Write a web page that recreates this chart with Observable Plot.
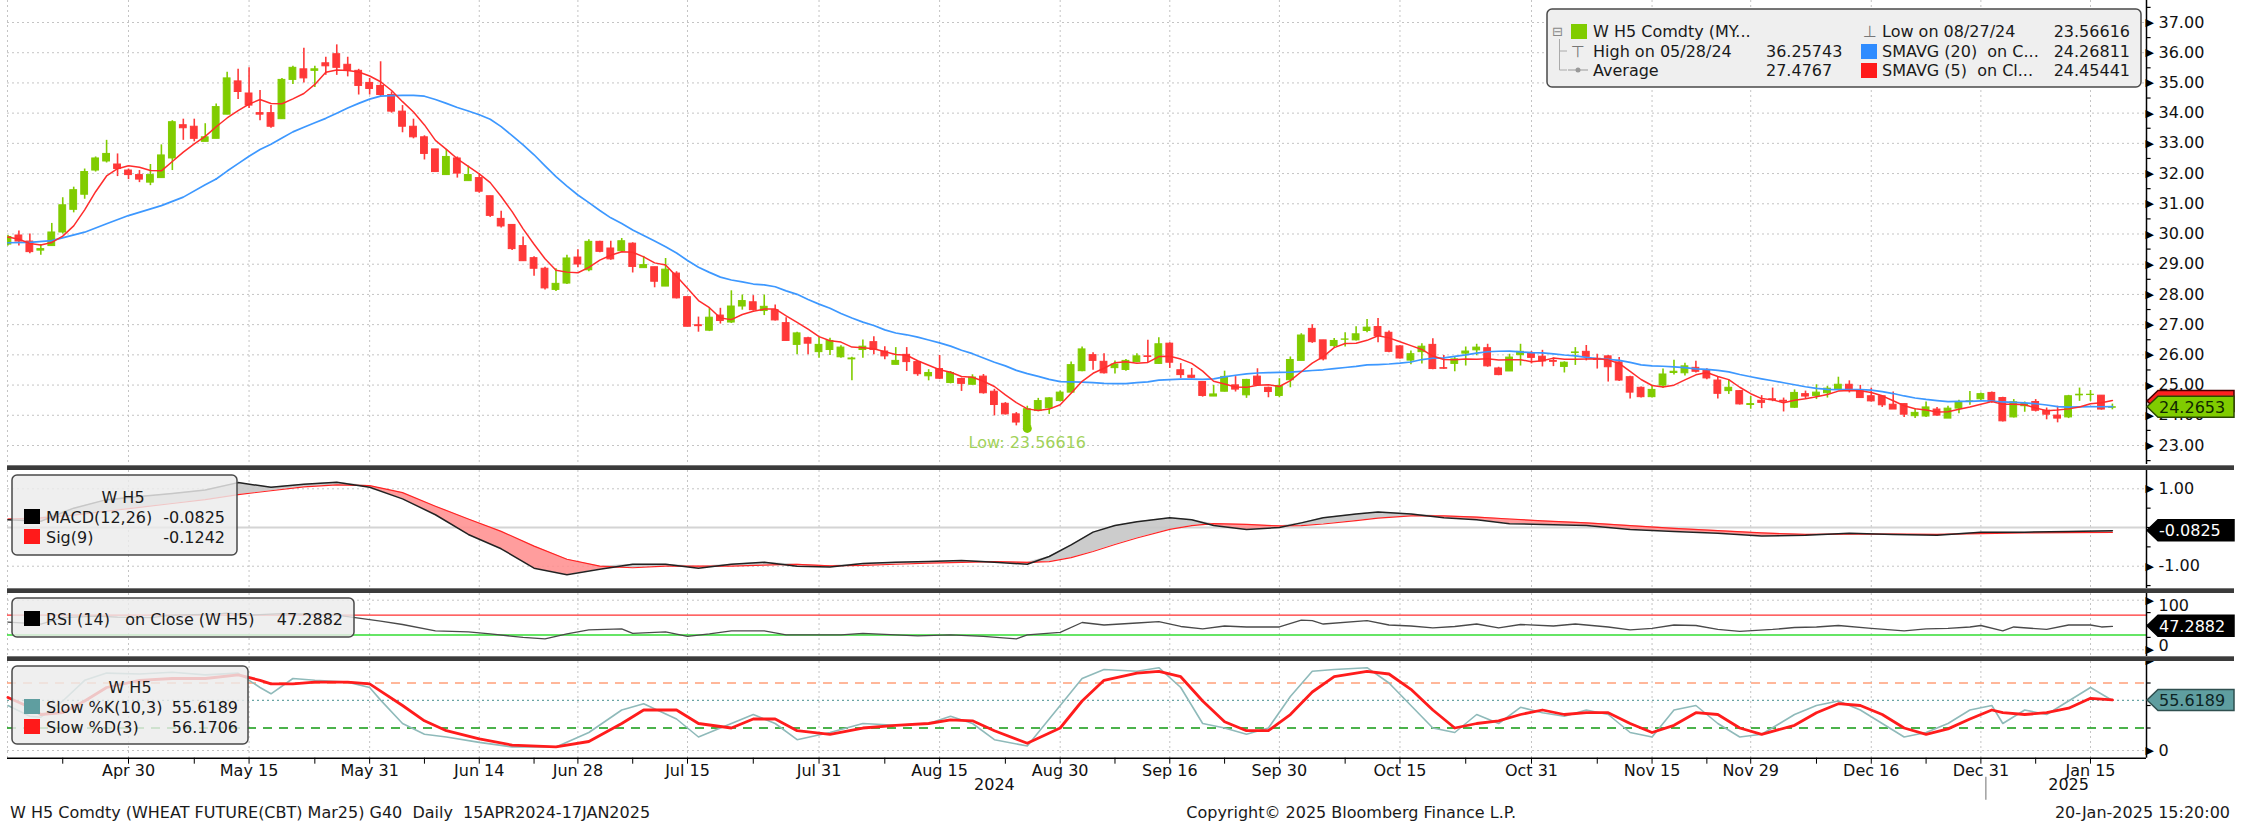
<!DOCTYPE html>
<html><head><meta charset="utf-8">
<script src="https://cdn.jsdelivr.net/npm/d3@7"></script>
<script src="https://cdn.jsdelivr.net/npm/@observablehq/plot@0.6"></script>
<style>
body{margin:0;background:#fff;}
#wrap{position:relative;width:2248px;height:826px;overflow:hidden;background:#fff;font-family:'DejaVu Sans',sans-serif;}
.panel{position:absolute;left:0;}
.bar{position:absolute;left:7px;width:2227px;height:5px;background:#3b3b3b;border-top:1px solid #777;box-sizing:border-box;}
#ov{position:absolute;left:0;top:0;pointer-events:none;}
</style></head>
<body><div id="wrap"></div>
<script>
// ---------- data ----------
const O=[29.65,29.95,29.75,29.45,29.60,30.05,30.80,31.30,32.10,32.40,32.30,32.10,31.95,31.70,31.85,32.50,33.60,33.55,33.05,33.15,33.95,35.05,34.65,34.00,34.00,33.80,35.10,35.45,35.40,35.65,35.95,35.60,35.40,35.00,34.90,34.60,34.05,33.55,33.20,32.80,31.95,32.50,31.75,31.85,31.25,30.50,30.30,29.60,29.20,28.85,28.15,28.36,29.22,28.80,29.74,29.52,29.43,29.68,28.87,28.90,28.26,28.69,27.91,26.98,26.80,27.30,27.07,27.60,27.74,27.45,27.48,27.05,26.33,26.55,26.09,26.16,25.92,25.85,26.16,26.42,26.11,25.67,26.00,25.76,25.29,25.53,25.07,25.20,25.01,25.28,24.78,24.38,24.03,23.60,24.14,24.23,24.47,24.75,25.46,25.99,25.77,25.56,25.50,25.76,25.95,25.70,26.37,25.49,25.31,25.10,24.62,24.78,24.99,24.66,25.28,24.91,24.64,25.16,25.80,26.86,26.48,26.29,26.50,26.48,26.79,26.92,26.73,26.28,25.81,26.09,26.33,25.56,25.70,26.04,26.15,26.22,25.55,25.45,25.99,26.04,25.94,25.80,25.60,26.06,26.10,25.87,25.95,25.75,25.26,24.91,24.60,24.98,25.40,25.39,25.57,25.48,25.15,24.80,24.80,24.34,24.48,24.53,24.48,24.25,24.70,24.64,24.73,24.85,25.01,24.81,24.63,24.63,24.35,24.37,23.97,23.96,24.19,23.89,24.22,24.45,24.53,24.74,24.57,23.93,24.30,24.44,24.15,23.99,23.93,24.66,24.67,24.65,24.25];
const H=[29.95,30.10,30.00,29.65,30.35,31.20,31.55,32.15,32.55,33.10,32.65,32.15,32.10,32.30,32.95,33.75,33.80,33.80,33.65,34.30,35.35,35.45,35.50,34.75,34.25,35.15,35.55,36.15,35.55,35.85,36.26,35.85,35.45,35.15,35.70,34.70,34.25,33.80,33.25,32.80,32.80,32.55,32.25,32.00,31.25,30.75,30.30,29.90,29.25,28.90,28.85,29.30,29.48,29.81,29.76,29.76,29.85,29.71,29.26,28.90,29.19,28.75,27.91,27.25,27.54,27.54,28.12,27.98,27.96,27.98,27.65,27.23,26.75,26.58,26.60,26.55,26.30,25.92,26.49,26.60,26.27,26.24,26.24,25.78,25.51,25.98,25.45,25.23,25.34,25.35,24.86,24.42,24.09,24.30,24.56,24.58,24.80,25.76,26.26,26.07,26.04,25.80,25.85,26.04,26.48,26.57,26.40,25.71,25.55,25.10,24.99,25.46,25.28,25.19,25.54,24.93,25.21,25.93,26.70,27.00,26.48,26.54,26.73,26.93,27.17,27.20,26.79,26.30,26.13,26.37,26.53,25.98,25.91,26.26,26.35,26.35,25.59,26.02,26.35,26.11,26.15,25.90,25.77,26.24,26.31,26.02,25.98,25.91,25.29,24.94,24.99,25.53,25.82,25.72,25.79,25.54,25.28,25.16,24.82,24.62,24.65,24.90,24.57,24.84,24.80,25.01,24.96,25.26,25.14,24.99,24.90,24.63,24.77,24.37,24.22,24.44,24.26,24.30,24.50,24.79,24.74,24.77,24.60,24.52,24.44,24.52,24.24,24.30,24.66,24.90,24.82,24.65,24.37];
const L=[29.60,29.60,29.35,29.30,29.60,30.00,30.70,31.15,32.05,32.35,31.90,31.80,31.70,31.60,31.85,32.10,33.10,33.05,33.05,33.15,33.95,34.45,34.15,33.75,33.50,33.80,34.95,35.00,34.85,35.25,35.25,35.20,34.60,34.60,34.55,34.00,33.35,33.15,32.45,32.05,31.95,31.85,31.75,31.35,30.55,30.20,29.45,29.10,28.60,28.15,28.10,28.33,28.88,28.75,29.38,29.13,29.38,28.71,28.87,28.22,28.26,27.85,26.93,26.75,26.77,27.02,27.04,27.48,27.45,27.30,27.12,26.44,26.00,26.00,25.89,25.98,25.89,25.14,25.89,26.00,25.84,25.67,25.45,25.29,25.14,25.18,25.04,24.79,24.99,24.70,23.98,24.01,23.65,23.566,24.12,24.03,24.45,24.75,25.44,25.49,25.37,25.37,25.46,25.74,25.74,25.68,25.55,25.22,25.21,24.60,24.62,24.77,24.77,24.56,24.97,24.58,24.58,24.91,25.80,26.38,25.80,26.24,26.26,26.46,26.73,26.40,26.07,25.86,25.67,25.70,25.51,25.52,25.44,25.63,25.97,25.59,25.31,25.45,25.63,25.70,25.60,25.61,25.40,25.65,25.80,25.53,25.10,25.12,24.54,24.57,24.57,24.89,25.33,25.30,25.40,25.18,24.54,24.69,24.34,24.20,24.22,24.45,24.11,24.23,24.53,24.52,24.57,24.85,24.74,24.57,24.44,24.26,24.19,23.93,23.89,23.93,23.97,23.89,24.05,24.33,24.49,24.40,23.78,23.91,24.10,24.11,23.85,23.75,23.89,24.46,24.46,24.17,24.18];
const C=[29.90,29.75,29.40,29.50,30.05,30.95,31.45,32.05,32.50,32.65,32.15,31.95,31.80,31.95,32.60,33.70,33.50,33.15,33.20,34.20,35.15,34.70,34.25,33.95,33.55,35.10,35.50,35.15,35.45,35.55,35.50,35.40,34.90,34.80,34.60,34.05,33.55,33.20,32.65,32.05,32.55,32.00,31.95,31.40,30.60,30.25,29.50,29.10,28.85,28.20,28.35,29.19,28.99,29.74,29.41,29.16,29.76,28.91,28.97,28.42,28.82,27.87,26.93,26.95,27.23,27.12,27.60,27.78,27.48,27.59,27.14,26.46,26.71,26.37,26.33,26.46,26.24,25.88,26.27,26.16,25.95,25.80,25.76,25.36,25.40,25.21,25.40,25.04,25.25,24.73,24.34,24.03,23.76,24.20,24.47,24.56,24.75,25.66,26.18,25.80,25.39,25.68,25.80,25.95,25.93,26.35,25.74,25.33,25.24,24.64,24.69,25.27,24.85,25.17,25.00,24.77,24.97,25.83,26.64,26.42,25.85,26.46,26.51,26.68,26.90,26.62,26.10,25.88,26.02,26.27,25.53,25.54,25.85,26.11,26.24,25.62,25.33,25.91,26.10,25.90,25.78,25.77,25.74,26.08,25.93,25.83,25.59,25.15,24.75,24.60,24.84,25.35,25.44,25.62,25.44,25.22,24.71,24.91,24.36,24.37,24.41,24.50,24.45,24.74,24.62,24.75,24.88,25.01,24.85,24.57,24.46,24.33,24.19,24.02,24.08,24.26,23.99,24.22,24.44,24.46,24.70,24.44,23.80,24.43,24.37,24.15,24.02,23.89,24.63,24.68,24.68,24.19,24.2653];

const smaHeadX=[0,2,4,7,9,11,14,16,18,19];
const smaHeadV=[29.71,29.72,29.78,30.06,30.34,30.61,30.94,31.22,31.63,31.82];

// MACD / signal (read at trading-day indices)
const macdX=[0,3,6,9,12,15,18,21,24,27,30,33,36,39,42,45,48,51,54,57,60,63,66,69,72,75,78,81,84,87,90,93,95,97,99,101,103,106,108,110,113,116,118,120,123,125,128,131,134,137,140,144,148,152,156,160,164,168,172,176,180,184,188,192];
const macdV=[0.20,0.16,0.50,0.72,0.80,0.88,0.97,1.16,1.04,1.12,1.17,1.04,0.74,0.33,-0.18,-0.55,-1.05,-1.22,-1.08,-0.95,-0.95,-1.05,-0.95,-0.90,-1.00,-1.02,-0.93,-0.90,-0.88,-0.85,-0.90,-0.95,-0.75,-0.45,-0.12,0.05,0.15,0.25,0.20,0.05,-0.05,0.00,0.12,0.25,0.35,0.40,0.35,0.25,0.20,0.10,0.08,0.05,-0.05,-0.10,-0.15,-0.22,-0.20,-0.15,-0.18,-0.20,-0.12,-0.12,-0.10,-0.0825];
const sigV=[0.22,0.25,0.32,0.42,0.52,0.62,0.72,0.85,0.95,1.05,1.10,1.08,0.90,0.55,0.22,-0.10,-0.48,-0.82,-1.00,-1.04,-1.00,-1.00,-1.00,-0.97,-0.95,-0.99,-0.98,-0.95,-0.92,-0.90,-0.88,-0.90,-0.88,-0.78,-0.62,-0.44,-0.27,-0.05,0.05,0.10,0.08,0.04,0.05,0.09,0.18,0.24,0.30,0.30,0.27,0.22,0.17,0.12,0.05,-0.02,-0.08,-0.14,-0.18,-0.17,-0.17,-0.18,-0.16,-0.14,-0.13,-0.1242];

// RSI(14)
const rsiX=[0,3,5,8,10,13,15,19,20,22,25,27,30,32,34,36,39,42,44,47,49,51,53,56,57,60,62,64,66,69,71,74,76,78,81,83,86,89,92,93,96,98,100,103,105,107,109,111,113,116,118,119,120,124,126,128,130,132,134,136,138,141,143,146,148,150,152,154,156,158,161,163,165,167,170,173,175,177,179,180,182,183,186,188,190,191,192];
const rsiV=[56,52,65,68,66,65,70,72,74,70,73,72,70,64,58,51,38,36,32,25,22,32,40,42,33,36,27,32,38,38,30,30,30,33,30,28,30,27,22,30,35,55,50,54,57,47,42,48,46,46,60,59,52,59,50,48,44,47,52,44,51,48,52,46,40,43,50,49,41,37,41,45,46,49,43,38,42,43,46,49,38,46,41,50,50,46,47.29];

// Slow stochastic %K(10,3) and %D(3)
const stX=[0,2,3,5,7,9,12,15,18,21,23,24,26,28,31,33,34,36,38,40,43,46,50,53,56,58,61,63,66,68,70,72,75,78,81,84,86,88,90,93,96,98,100,103,105,107,109,111,113,115,117,119,121,124,126,128,130,132,134,136,138,140,142,144,146,148,150,152,154,156,158,160,163,165,167,169,171,173,175,177,179,181,182,184,186,188,190,192];
const kV=[50,38,37,55,78,86,85,87,84,86,70,63,80,78,76,70,56,30,18,15,9,4,4,20,45,52,35,15,30,40,30,12,20,30,28,30,38,30,12,5,50,80,90,88,92,70,30,25,18,25,60,88,90,92,75,50,25,20,40,30,48,42,38,45,40,20,15,45,50,30,15,18,40,50,55,45,30,15,20,30,45,50,30,45,40,55,70,55.62];
const dV=[59,48,40,42,55,70,78,80,80,84,78,74,74,76,76,74,66,50,33,22,13,6,4,10,30,45,45,30,25,35,35,22,18,25,28,30,34,33,22,8,25,55,78,86,88,82,55,32,22,22,40,65,82,88,85,68,45,25,30,33,40,45,40,42,42,30,20,28,42,40,25,18,28,42,52,50,40,25,18,24,35,45,42,40,42,47,58,56.17];

// axis ticks
const tickIdx=[11,22,33,43,52,62,74,85,96,106,116,127,139,150,159,170,180,190];
const tickLbl=["Apr 30","May 15","May 31","Jun 14","Jun 28","Jul 15","Jul 31","Aug 15","Aug 30","Sep 16","Sep 30","Oct 15","Oct 31","Nov 15","Nov 29","Dec 16","Dec 31","Jan 15"];
const minorIdx=[5,17,28,38,48,57,68,80,91,101,111,122,133,145,155,165,175,185];
const priceTicks=[23,24,25,26,27,28,29,30,31,32,33,34,35,36,37];
const yearLbl=[{i:90,t:"2024"},{i:188,t:"2025"}];

// ---------- build ----------
const candles=C.map((c,i)=>({i,o:O[i],h:H[i],l:L[i],c}));
const smaHead=smaHeadX.map((x,k)=>({x,v:smaHeadV[k]}));
const macd=macdX.map((x,k)=>({x,m:macdV[k],s:sigV[k]}));
const rsi=rsiX.map((x,k)=>({x,v:rsiV[k]}));
const sto=stX.map((x,k)=>({x,k:kV[k],d:dV[k]}));

const GREEN="#80cc00", RED="#ff3838";
const FONT="'DejaVu Sans',sans-serif", FS=16;
const XD=[-0.04,195.11], XMAX=XD[1];
const STYLE=`font-family:${FONT};font-size:${FS}px;color:#111;background:transparent;overflow:visible;`;
const grid={stroke:"#c4c4c4",strokeDasharray:"2,3",strokeWidth:1};
const wrap=document.getElementById("wrap");

function arrows(vals){return Plot.text(vals,{y:d=>d,frameAnchor:"right",text:()=>"\u25B6",textAnchor:"start",dx:-1,fontSize:11,fill:"#000"});}
function labels(vals,fmt,dy=0){return Plot.text(vals,{y:d=>d,frameAnchor:"right",text:fmt,textAnchor:"start",dx:12,dy,fontSize:FS,fill:"#111"});}
function minor(vals){return Plot.ruleY(vals,{x1:XMAX,x2:XMAX+0.42,stroke:"#000",strokeWidth:1.2});}
const axisLine=()=>Plot.ruleX([XMAX],{stroke:"#000",strokeWidth:1.5});
function tag(v,label,fill,txt,stroke){
  return (index,scales,values,dims)=>{
    const y=scales.y(v), x0=dims.width-dims.marginRight+1, x1=2234, h=21;
    const g=d3.create("svg:g");
    g.append("path").attr("d",`M${x0},${y}L${x0+11},${y-h/2}H${x1}V${y+h/2}H${x0+11}Z`)
      .attr("fill",fill).attr("stroke",stroke).attr("stroke-width",1.5);
    if(label) g.append("text").attr("x",x0+12).attr("y",y).attr("dy","0.36em").attr("fill",txt)
      .attr("text-anchor","start").attr("font-size",FS).attr("font-family",FONT).text(label);
    return g.node();
  };
}
function place(node,top){const d=document.createElement("div");d.className="panel";d.style.top=top+"px";d.appendChild(node);wrap.appendChild(d);}

// price panel
const colorOf=d=>d.c>=d.o?GREEN:RED;
place(Plot.plot({
  width:2248,height:464,marginLeft:7,marginRight:102,marginTop:0,marginBottom:0,
  x:{domain:XD,axis:null},y:{domain:[22.371,37.728],axis:null},style:STYLE,
  marks:[
    Plot.ruleY(priceTicks,grid),
    Plot.ruleX([XD[0]].concat(tickIdx),grid),
    Plot.ruleX(candles,{x:"i",y1:"l",y2:"h",stroke:colorOf,strokeWidth:1.6,clip:true}),
    Plot.rect(candles,{x1:d=>d.i-0.31,x2:d=>d.i+0.31,y1:"o",y2:"c",fill:colorOf,stroke:colorOf,strokeWidth:1,clip:true}),
    Plot.lineY(smaHead,{x:"x",y:"v",stroke:"#3d98ff",strokeWidth:1.7,clip:true}),
    Plot.lineY(candles,Plot.windowY({k:20,anchor:"end",reduce:"mean",strict:true},{x:"i",y:"c",stroke:"#3d98ff",strokeWidth:1.7,clip:true})),
    Plot.lineY(candles,Plot.windowY({k:5,anchor:"end",reduce:"mean"},{x:"i",y:"c",stroke:"#ff2c2c",strokeWidth:1.5,clip:true})),
    Plot.dot([candles[93]],{x:"i",y:"l",r:4.5,fill:GREEN}),
    Plot.text([candles[93]],{x:"i",y:"l",text:()=>"Low: 23.56616",dy:14,fill:"#a2d25a",fontSize:FS}),
    minor(d3.range(22.5,37.6,1)), arrows(priceTicks), labels(priceTicks,d=>d.toFixed(2)), axisLine(),
    tag(24.45441,"","#ff2020","#000","#400"),
    tag(24.2653,"24.2653",GREEN,"#102800","#2b4a00")
  ]
}),0);

// MACD panel
place(Plot.plot({
  width:2248,height:118,marginLeft:7,marginRight:102,marginTop:0,marginBottom:0,
  x:{domain:XD,axis:null},y:{domain:[-1.576,1.473],axis:null},style:STYLE,
  marks:[
    Plot.ruleX([XD[0]].concat(tickIdx),grid),
    Plot.ruleY([-1,1],grid),
    Plot.ruleY([0],{stroke:"#d4d4d4",strokeWidth:2}),
    Plot.areaY(macd,{x:"x",y1:"s",y2:d=>Math.min(d.m,d.s),fill:"#ff8c8c",fillOpacity:0.85}),
    Plot.areaY(macd,{x:"x",y1:"s",y2:d=>Math.max(d.m,d.s),fill:"#c6c6c6",fillOpacity:0.9}),
    Plot.lineY(macd,{x:"x",y:"s",stroke:"#ff2424",strokeWidth:1.2}),
    Plot.lineY(macd,{x:"x",y:"m",stroke:"#222",strokeWidth:1.5}),
    minor([0.5,0,-0.5,-1.5]), arrows([1,-1]), labels([1,-1],d=>d.toFixed(2)), axisLine(),
    tag(-0.0825,"-0.0825","#000","#fff","#000")
  ]
}),470);

// RSI panel
place(Plot.plot({
  width:2248,height:63,marginLeft:7,marginRight:102,marginTop:0,marginBottom:0,
  x:{domain:XD,axis:null},y:{domain:[-13.5,113.5],axis:null},style:STYLE,
  marks:[
    Plot.ruleX([XD[0]].concat(tickIdx),grid),
    Plot.ruleY([0,100],grid),
    Plot.ruleY([70],{stroke:"#ff3030",strokeWidth:1.3}),
    Plot.ruleY([30],{stroke:"#33dd33",strokeWidth:1.5}),
    Plot.lineY(rsi,{x:"x",y:"v",stroke:"#4a4a4a",strokeWidth:1.3}),
    minor([25,50,75]), arrows([100,0]),
    labels([100],d=>String(d),6), labels([0],d=>String(d),-4), axisLine(),
    tag(47.2882,"47.2882","#000","#fff","#000")
  ]
}),593);

// Stochastic panel + x axis
place(Plot.plot({
  width:2248,height:165,marginLeft:7,marginRight:102,marginTop:0,marginBottom:68.3,
  x:{domain:XD,axis:null},y:{domain:[-8.56,98.9],axis:null},style:STYLE,
  marks:[
    Plot.ruleX([XD[0]].concat(tickIdx),grid),
    Plot.ruleY([0],grid),
    Plot.ruleY([75],{stroke:"#ffa07a",strokeWidth:1.3,strokeDasharray:"9,7"}),
    Plot.ruleY([25],{stroke:"#119911",strokeWidth:1.3,strokeDasharray:"9,7"}),
    Plot.ruleY([55.6189],{stroke:"#6aa5a5",strokeWidth:1.3,strokeDasharray:"2,3"}),
    Plot.lineY(sto,{x:"x",y:"k",stroke:"#8fbaba",strokeWidth:1.6}),
    Plot.lineY(sto,{x:"x",y:"d",stroke:"#ff1c1c",strokeWidth:2.8}),
    Plot.ruleY([-8.56],{stroke:"#000",strokeWidth:1.5}),
    Plot.axisX(minorIdx,{anchor:"bottom",tickSize:6,tickFormat:()=>"",stroke:"#000"}),
    Plot.axisX(tickIdx,{anchor:"bottom",tickSize:6,tickPadding:0,tickFormat:i=>tickLbl[tickIdx.indexOf(i)],fontSize:FS,fill:"#111",stroke:"#000"}),
    Plot.text(yearLbl,{x:"i",text:"t",frameAnchor:"bottom",dy:32,fontSize:FS,fill:"#111"}),
    minor([25,50,75]), arrows([0,100]), labels([0],d=>String(d)), axisLine(),
    (index,scales,values,dims)=>{const x=scales.x(180.5);const y0=dims.height-dims.marginBottom;
      return d3.create("svg:line").attr("x1",x).attr("x2",x).attr("y1",y0+19).attr("y2",y0+42).attr("stroke","#888").attr("stroke-width",1.2).node();},
    tag(55.6189,"55.6189","#5f9ea0","#0d2424","#2f4f4f")
  ]
}),661);

// dividers
[465,588,656].forEach(t=>{const b=document.createElement("div");b.className="bar";b.style.top=t+"px";wrap.appendChild(b);});

// overlay: legends & footer
const ov=d3.select(wrap).append("svg").attr("id","ov").attr("width",2248).attr("height",826).style("font-family",FONT);
function T(x,y,s,anchor="start",opt={}){
  return ov.append("text").attr("x",x).attr("y",y).attr("dy","0.35em").attr("text-anchor",anchor)
    .attr("font-size",opt.size||FS).attr("fill",opt.fill||"#1a1a1a").style("white-space","pre").text(s);
}
function box(x,y,w,h,fill){ov.append("rect").attr("x",x).attr("y",y).attr("width",w).attr("height",h).attr("rx",5)
  .attr("fill",fill).attr("stroke","#4a4a4a").attr("stroke-width",1.5);}
function sq(x,y,c){ov.append("rect").attr("x",x).attr("y",y).attr("width",16).attr("height",15).attr("fill",c);}

// main legend
box(1547,9,594,78,"#efefef");
T(1552,31,"\u229F","start",{size:13,fill:"#888"});
ov.append("path").attr("d","M1559.5,39V70M1559.5,51H1567M1559.5,70H1567").attr("stroke","#aaa").attr("fill","none");
sq(1571,24,GREEN);
T(1593,31,"W H5 Comdty (MY...");
T(1571,51,"\u22A4","start",{fill:"#777"});
T(1593,51,"High on 05/28/24"); T(1766,51,"36.25743");
ov.append("path").attr("d","M1568,70H1588").attr("stroke","#999");
ov.append("circle").attr("cx",1578).attr("cy",70).attr("r",2.5).attr("fill","#999");
T(1593,70,"Average"); T(1766,70,"27.4767");
T(1863,31,"\u22A5","start",{fill:"#777"});
T(1882,31,"Low on 08/27/24"); T(2130,31,"23.56616","end");
sq(1861,44,"#2f8cff"); T(1882,51,"SMAVG (20)  on C..."); T(2130,51,"24.26811","end");
sq(1861,63,"#ff1a1a"); T(1882,70,"SMAVG (5)  on Cl..."); T(2130,70,"24.45441","end");

// MACD legend
box(12,475,225,80,"rgba(236,236,236,0.82)");
T(123,497,"W H5","middle");
sq(24,509,"#000"); T(46,517,"MACD(12,26)"); T(225,517,"-0.0825","end");
sq(24,529,"#ff1a1a"); T(46,537,"Sig(9)"); T(225,537,"-0.1242","end");

// RSI legend
box(12,598,342,39,"rgba(236,236,236,0.82)");
sq(24,611,"#000"); T(46,619,"RSI (14)   on Close (W H5)"); T(343,619,"47.2882","end");

// Stoch legend
box(12,666,236,78,"rgba(236,236,236,0.82)");
T(130,687,"W H5","middle");
sq(24,699,"#5f9ea0"); T(46,707,"Slow %K(10,3)"); T(238,707,"55.6189","end");
sq(24,719,"#ff1a1a"); T(46,727,"Slow %D(3)"); T(238,727,"56.1706","end");

// footer
T(10,812,"W H5 Comdty (WHEAT FUTURE(CBT) Mar25) G40  Daily  15APR2024-17JAN2025");
T(1516,812,"Copyright\u00A9 2025 Bloomberg Finance L.P.","end");
T(2230,812,"20-Jan-2025 15:20:00","end");
</script></body></html>
